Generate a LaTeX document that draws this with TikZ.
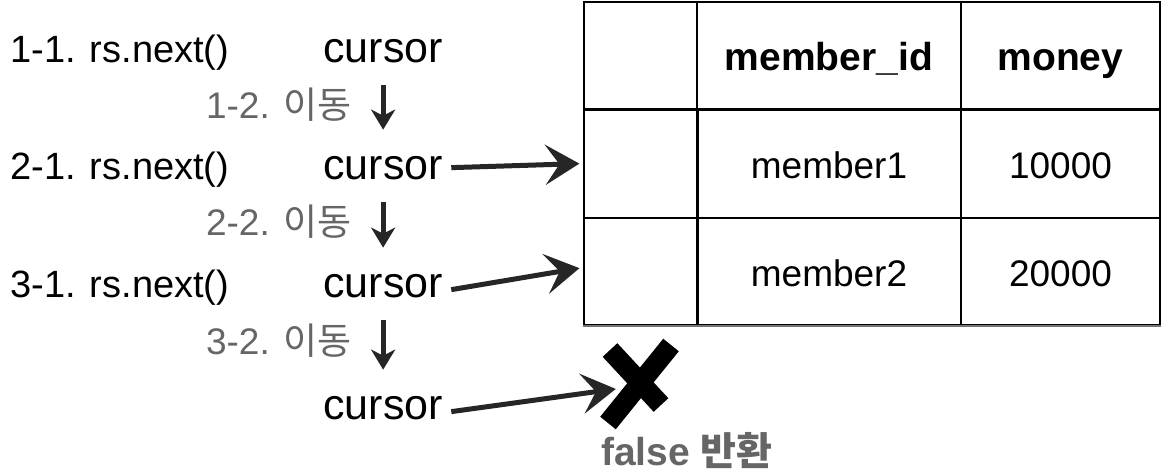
\documentclass[tikz,border=0pt]{standalone}
\usepackage{fontspec}
\setmainfont{Liberation Sans}
\newfontfamily\kr{Noto Sans CJK KR}
\usetikzlibrary{arrows.meta}

\begin{document}
\begin{tikzpicture}[x=0.5pt, y=-0.5pt,
        txt/.style={font=\fontsize{19}{22}\selectfont, inner sep=0pt},
        cursortxt/.style={font=\fontsize{21.5}{24}\selectfont, inner sep=0pt},
        movetxt/.style={font=\fontsize{18.5}{22}\selectfont, inner sep=0pt, text=black!60},
        cell/.style={draw, line width=0.6pt, inner sep=0pt, text height=17.5pt, text depth=3pt, font=\fontsize{18.5}{22}\selectfont},
        headcell/.style={cell, font=\fontsize{19.5}{22}\selectfont\bfseries},
        ptr/.style={-{Stealth[length=17pt,width=20pt,inset=7pt]}, line width=2.5pt, black!85},
        move/.style={-{Stealth[length=10pt,width=12pt,inset=3pt]}, line width=2.5pt, black!85}
    ]
    \useasboundingbox (0,0) rectangle (1162,472);

    % table
    \node[cell, minimum width=56.5pt, minimum height=53.5pt] (head) at (640.5,55.5) {};
    \node[headcell, minimum width=132pt, minimum height=53.5pt] (headid) at (829,55.5) {member\_id};
    \node[headcell, minimum width=99.5pt, minimum height=53.5pt] (headmoney) at (1060.5,55.5) {money};
    \node[cell, minimum width=56.5pt, minimum height=54.5pt] (row1) at (640.5,163.5) {};
    \node[cell, minimum width=132pt, minimum height=54.5pt] (id1) at (829,163.5) {member1};
    \node[cell, minimum width=99.5pt, minimum height=54.5pt] (money1) at (1060.5,163.5) {10000};
    \node[cell, minimum width=56.5pt, minimum height=53.5pt] (row2) at (640.5,271.5) {};
    \node[cell, minimum width=132pt, minimum height=53.5pt] (id2) at (829,271.5) {member2};
    \node[cell, minimum width=99.5pt, minimum height=53.5pt] (money2) at (1060.5,271.5) {20000};
    \draw[line width=1.6pt] (head.south west) -- (headmoney.south east);
    \draw[line width=1.6pt] (row1.north east) -- (row2.south east);
    \draw[line width=1pt, black!55] (row2.south west) -- (money2.south east);

    % left side
    \node[txt, anchor=base west] (next1) at (10,62) {1-1. rs.next()};
    \node[txt, anchor=base west] (next2) at (10,179) {2-1. rs.next()};
    \node[txt, anchor=base west] (next3) at (10,297) {3-1. rs.next()};
    \node[cursortxt, anchor=base west] (c1) at (323,62) {cursor};
    \node[cursortxt, anchor=base west] (c2) at (323,179) {cursor};
    \node[cursortxt, anchor=base west] (c3) at (323,297) {cursor};
    \node[cursortxt, anchor=base west] (c4) at (323,419) {cursor};
    \node[movetxt, anchor=base east] (mv1) at (352,118) {1-2. {\kr 이동}};
    \node[movetxt, anchor=base east] (mv2) at (352,235) {2-2. {\kr 이동}};
    \node[movetxt, anchor=base east] (mv3) at (352,354) {3-2. {\kr 이동}};

    \draw[move, shorten <=17pt, shorten >=19pt] (c1.center) -- (c2.center);
    \draw[move, shorten <=17pt, shorten >=19pt] (c2.center) -- (c3.center);
    \draw[move, shorten <=17pt, shorten >=19pt] (c3.center) -- (c4.center);

    % end of rows
    \node[inner sep=0pt] (nomore) at (637,386) {};
    \draw[line width=10pt] ([shift={(-27,-36)}]nomore.center) -- ([shift={(24,19)}]nomore.center);
    \draw[line width=10pt] ([shift={(34,-41)}]nomore.center) -- ([shift={(-29,37)}]nomore.center);
    \node[txt, text=black!60, font=\fontsize{19.5}{22}\selectfont\bfseries] (ret) at (687,451) {false {\kr 반환}};

    \draw[ptr, shorten >=2pt] ([xshift=4pt]c2.east) -- (row1.west);
    \draw[ptr, shorten >=2pt] ([xshift=4pt,yshift=-2pt]c3.east) -- ([yshift=2pt]row2.west);
    \draw[ptr, shorten >=10pt] ([xshift=4pt,yshift=-2pt]c4.east) -- (nomore);
\end{tikzpicture}
\end{document}
